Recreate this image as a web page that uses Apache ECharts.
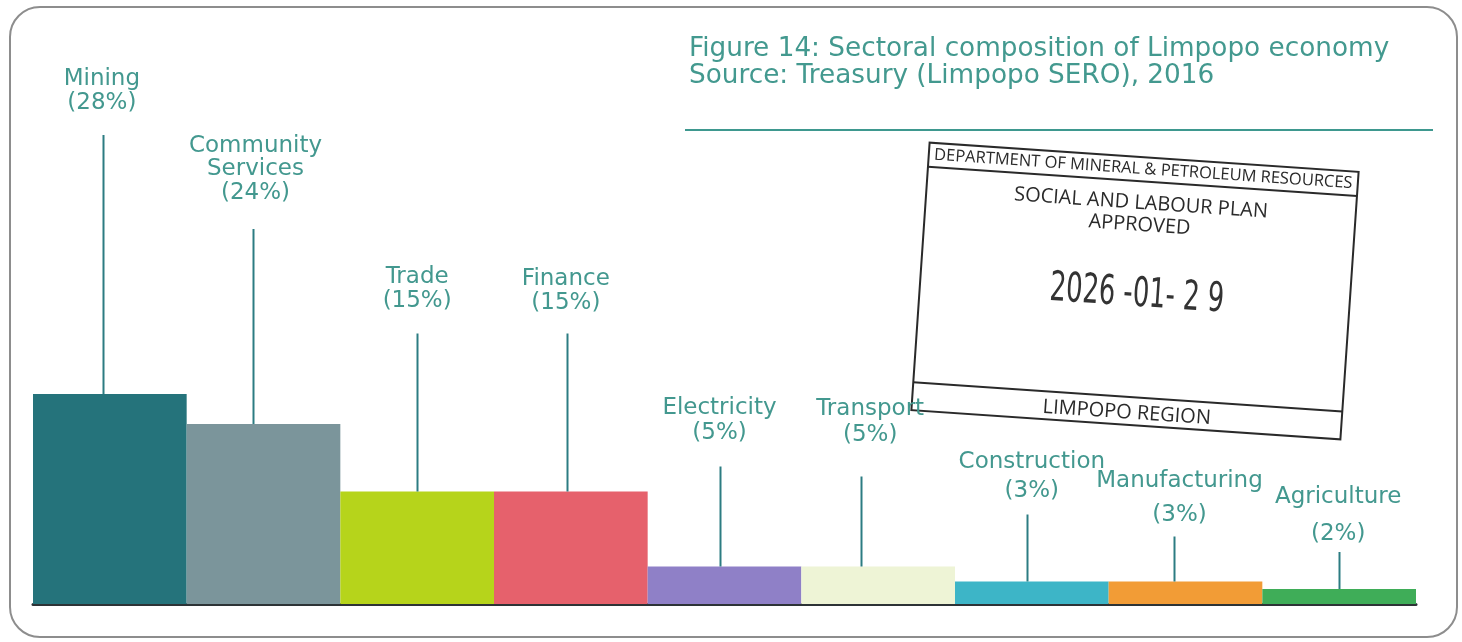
<!DOCTYPE html>
<html>
<head>
<meta charset="utf-8">
<title>Sectoral composition of Limpopo economy</title>
<script src="https://cdn.jsdelivr.net/npm/echarts@6/dist/echarts.min.js"></script>
<style>
  html, body { margin: 0; padding: 0; background: #ffffff; }
  #chart { width: 1462px; height: 642px; }
</style>
</head>
<body>
<div id="chart"></div>
<script>
// Sector shares of the Limpopo economy (% of GDP)
const sectors = ['Mining', 'Community Services', 'Trade', 'Finance', 'Electricity',
                 'Transport', 'Construction', 'Manufacturing', 'Agriculture'];
const shares = [28, 24, 15, 15, 5, 5, 3, 3, 2];
const sectorColors = ['#25737b', '#7b959b', '#b6d41b', '#e6616c', '#8f80c7',
                      '#eef4d6', '#3db5c7', '#f29c36', '#3fad58'];

// Callout layout: leader length above each bar (px), horizontal nudges,
// distance from leader top to the last label line, and label line height.
const leaderLength = [259, 195, 158, 158, 100, 90, 67, 45, 37];
const leaderDx     = [-7, -11, 0, -4, -5, -17, -5, -12, 0];
const labelDx      = [-8, -8, 0, -5, -5, -8, 0, -6, -1];
const labelRise    = [32, 36, 32, 30, 33, 41, 23, 21, 18];
const labelLineH   = [24, 23.5, 24, 24, 25, 26, 29, 34, 37];

const LABEL_COLOR = '#43988f';
const LEADER_COLOR = '#2c7c82';
const FONT = '"DejaVu Sans", "Open Sans", sans-serif';
const STAMP_FONT = '"Open Sans", sans-serif';
const STAMP_INK = '#2a2a2a';

const chart = echarts.init(document.getElementById('chart'), null, { renderer: 'canvas' });

const option = {
  backgroundColor: '#ffffff',
  animation: false,
  title: {
    text: 'Figure 14: Sectoral composition of Limpopo economy\nSource: Treasury (Limpopo SERO), 2016',
    left: 684,
    top: 31,
    textStyle: {
      color: '#43998f',
      fontFamily: FONT,
      fontWeight: 'normal',
      fontSize: 26.3,
      lineHeight: 27
    }
  },
  grid: { left: 33, right: 46, top: 154, bottom: 38 },
  xAxis: {
    type: 'category',
    data: sectors,
    axisLine: { show: true, lineStyle: { color: '#2d3336', width: 3 } },
    axisTick: { show: false },
    axisLabel: { show: false },
    splitLine: { show: false }
  },
  yAxis: {
    type: 'value',
    min: 0,
    max: 60,
    show: false,
    splitLine: { show: false }
  },
  series: [
    {
      type: 'bar',
      data: shares.map((v, i) => ({ value: v, itemStyle: { color: sectorColors[i] } })),
      barCategoryGap: '0%',
      z: 2
    },
    {
      // leader lines and sector labels above each bar
      type: 'custom',
      data: shares.map((v, i) => [i, v]),
      clip: false,
      z: 3,
      renderItem: function (params, api) {
        const i = params.dataIndex;
        const top = api.coord([api.value(0), api.value(1)]);
        const lx = Math.round(top[0] + leaderDx[i]) + 0.5;
        const y1 = top[1];
        const y0 = y1 - leaderLength[i];
        const label = sectors[i].split(' ').join('\n') + '\n(' + shares[i] + '%)';
        const lh = labelLineH[i];
        return {
          type: 'group',
          children: [
            {
              type: 'line',
              shape: { x1: lx, y1: y1, x2: lx, y2: y0 },
              style: { stroke: LEADER_COLOR, lineWidth: 2 }
            },
            {
              type: 'text',
              style: {
                text: label,
                x: top[0] + labelDx[i],
                y: y0 - labelRise[i] + lh / 2,
                align: 'center',
                verticalAlign: 'bottom',
                fill: LABEL_COLOR,
                fontFamily: FONT,
                fontWeight: 'normal',
                fontSize: 23,
                lineHeight: lh
              }
            }
          ]
        };
      }
    }
  ],
  graphic: [
    {
      // rounded frame
      type: 'rect',
      shape: { x: 10, y: 7, width: 1447, height: 630, r: 30 },
      style: { fill: 'none', stroke: '#8d8d8d', lineWidth: 2 },
      silent: true,
      z: -1
    },
    {
      // rule under the heading
      type: 'line',
      shape: { x1: 685, y1: 130, x2: 1433, y2: 130 },
      style: { stroke: '#3e988f', lineWidth: 2 },
      silent: true
    },
    {
      // approval stamp
      type: 'group',
      x: 1135,
      y: 291,
      rotation: -3.9 * Math.PI / 180,
      silent: true,
      z: 10,
      children: [
        {
          type: 'rect',
          shape: { x: -215, y: -134, width: 430, height: 268 },
          style: { fill: 'none', stroke: STAMP_INK, lineWidth: 2 }
        },
        {
          type: 'line',
          shape: { x1: -215, y1: -110, x2: 215, y2: -110 },
          style: { stroke: STAMP_INK, lineWidth: 2 }
        },
        {
          type: 'line',
          shape: { x1: -215, y1: 106, x2: 215, y2: 106 },
          style: { stroke: STAMP_INK, lineWidth: 2 }
        },
        {
          type: 'text',
          style: {
            text: 'DEPARTMENT OF MINERAL & PETROLEUM RESOURCES',
            x: 0, y: -122, align: 'center', verticalAlign: 'middle',
            fill: STAMP_INK, fontFamily: STAMP_FONT, fontSize: 16.5
          }
        },
        {
          type: 'text',
          style: {
            text: 'SOCIAL AND LABOUR PLAN',
            x: 0, y: -88, align: 'center', verticalAlign: 'middle',
            fill: STAMP_INK, fontFamily: STAMP_FONT, fontSize: 20
          }
        },
        {
          type: 'text',
          style: {
            text: 'APPROVED',
            x: 0, y: -66, align: 'center', verticalAlign: 'middle',
            fill: STAMP_INK, fontFamily: STAMP_FONT, fontSize: 20
          }
        },
        {
          type: 'text',
          x: 2,
          y: 4,
          scaleX: 0.7,
          style: {
            text: '2026 -01- 2 9',
            x: 0, y: 0, align: 'center', verticalAlign: 'middle',
            fill: '#333333', fontFamily: '"DejaVu Sans Condensed", "Liberation Sans Narrow", sans-serif',
            fontSize: 41
          }
        },
        {
          type: 'text',
          style: {
            text: 'LIMPOPO REGION',
            x: 0, y: 122, align: 'center', verticalAlign: 'middle',
            fill: STAMP_INK, fontFamily: STAMP_FONT, fontSize: 20
          }
        }
      ]
    }
  ]
};

chart.setOption(option);
</script>
</body>
</html>
